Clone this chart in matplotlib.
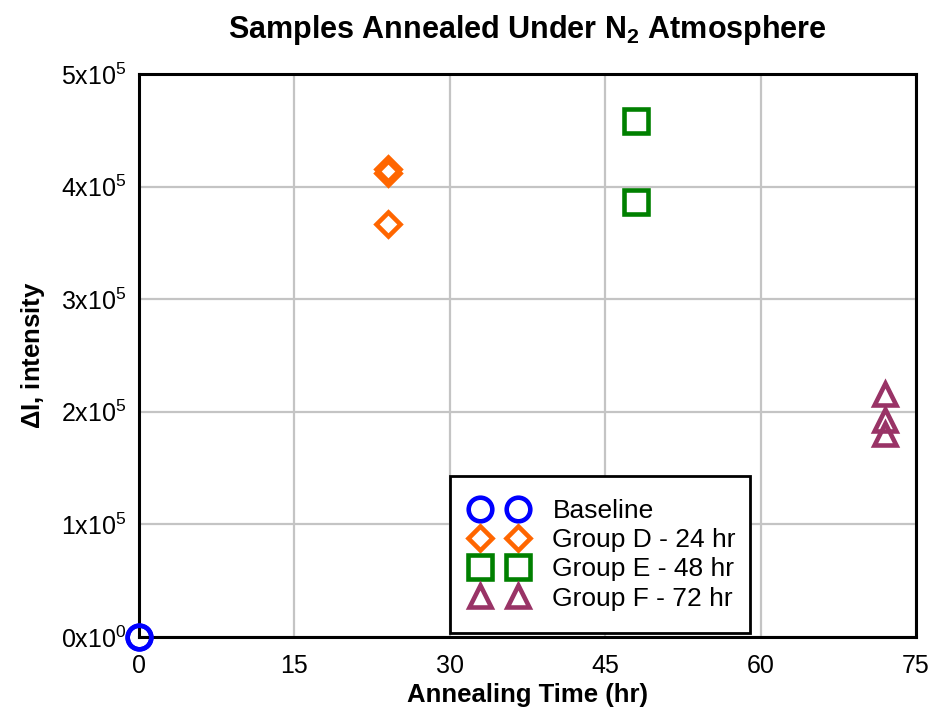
import numpy as np
import matplotlib
matplotlib.use("Agg")
import matplotlib.pyplot as plt

plt.rcParams['font.family'] = ['Liberation Sans', 'DejaVu Sans']
plt.rcParams['mathtext.fontset'] = 'custom'
plt.rcParams['mathtext.rm'] = 'Liberation Sans'
plt.rcParams['mathtext.bf'] = 'Liberation Sans:bold'

# data
base_x = [0, 0]
base_y = [0, 0]
d_x = [24, 24, 24]
d_y = [4.16e5, 4.12e5, 3.67e5]
e_x = [48, 48]
e_y = [4.58e5, 3.86e5]
f_x = [72, 72, 72]
f_y = [2.16e5, 1.93e5, 1.80e5]

labels = ['Baseline', 'Group D - 24 hr', 'Group E - 48 hr', 'Group F - 72 hr']
xticks = [0, 15, 30, 45, 60, 75]
yticks = [0, 1e5, 2e5, 3e5, 4e5, 5e5]

fig = plt.figure(figsize=(9.35, 7.17), dpi=100)
ax = fig.add_axes([0.1487, 0.1116, 0.831, 0.7852])

# open markers, thick edges
style = dict(linestyle='none', markerfacecolor='none', markersize=17,
             markeredgewidth=3.3, clip_on=False, zorder=5)
ax.plot(base_x, base_y, 'o', color='#0000ff', label=labels[0], **style)
ax.plot(d_x, d_y, 'D', color='#ff6600', label=labels[1],
        **{**style, 'markersize': 12})
ax.plot(e_x, e_y, 's', color='#008000', label=labels[2], **style)
ax.plot(f_x, f_y, '^', color='#993366', label=labels[3],
        **{**style, 'markersize': 16})

ax.set_xlim(0, 75)
ax.set_ylim(0, 5e5)
ax.set_xticks(xticks)
ax.set_yticks(yticks)
ax.set_xticklabels([str(t) for t in xticks])
ylab = []
for t in yticks:
    if t == 0:
        ylab.append(r'$\mathregular{0x10^{0}}$')
    else:
        ylab.append(r'$\mathregular{%dx10^{5}}$' % int(t / 1e5))
ax.set_yticklabels(ylab)
ax.tick_params(length=0, labelsize=18)
ax.tick_params(axis='y', pad=9)
ax.tick_params(axis='x', pad=12)

ax.grid(True, color='#c4c4c4', linewidth=1.6)
ax.set_axisbelow(True)
for s in ax.spines.values():
    s.set_linewidth(2.2)
    s.set_color('black')

ax.set_title(r'Samples Annealed Under N$_\mathbf{2}$ Atmosphere',
             fontsize=22, fontweight='bold', pad=26)
ax.set_xlabel('Annealing Time (hr)', fontsize=18.5, fontweight='bold', labelpad=4)
ax.set_ylabel(r'$\mathbf{\Delta}$I, intensity', fontsize=18.5, fontweight='bold',
              labelpad=10)

leg = ax.legend(loc='lower left', bbox_to_anchor=(0.400, 0.007, 0.386, 0.275),
                mode='expand', numpoints=2, fontsize=19, fancybox=False,
                framealpha=1, edgecolor='black', borderpad=0.85,
                labelspacing=0.2, handlelength=2.04, handletextpad=1.0,
                borderaxespad=0)
leg.get_frame().set_linewidth(2.0)
for h in leg.legend_handles:
    h.set_markersize(17)
leg.legend_handles[1].set_markersize(12)
leg.legend_handles[3].set_markersize(16)

fig.savefig('out.png', dpi=100)
